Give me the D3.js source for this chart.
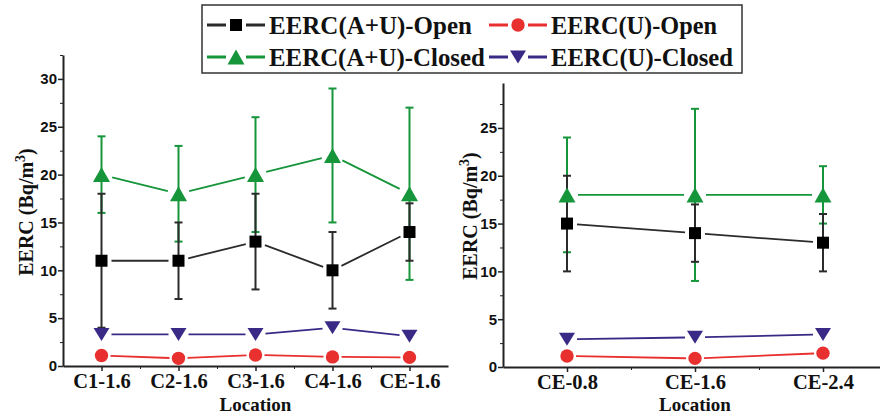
<!DOCTYPE html>
<html>
<head>
<meta charset="utf-8">
<script src="https://cdn.jsdelivr.net/npm/d3@7"></script>
<style>
body { margin: 0; background: #fff; }
svg { display: block; }
</style>
</head>
<body>
<svg id="chart" width="880" height="418"></svg>
<script>
// categories
var leftCats = ["C1-1.6", "C2-1.6", "C3-1.6", "C4-1.6", "CE-1.6"];
var rightCats = ["CE-0.8", "CE-1.6", "CE-2.4"];

// left panel series (Bq/m3)
var leftAUOpen = [11, 11, 13, 10, 14];
var leftAUOpenErr = [7, 4, 5, 4, 3];
var leftUOpen = [1.1, 0.8, 1.15, 0.95, 0.9];
var leftAUClosed = [20, 18, 20, 22, 18];
var leftAUClosedErr = [4, 5, 6, 7, 9];
var leftUClosed = [3.3, 3.3, 3.3, 4.0, 3.1];

// right panel series
var rightAUOpen = [15, 14, 13];
var rightAUOpenErr = [5, 3, 3];
var rightUOpen = [1.15, 0.9, 1.45];
var rightAUClosed = [18, 18, 18];
var rightAUClosedErr = [6, 9, 3];
var rightUClosed = [2.9, 3.1, 3.4];

// y ticks
var leftYTicks = [0, 5, 10, 15, 20, 25, 30];
var rightYTicks = [0, 5, 10, 15, 20, 25];

var seriesNames = ["EERC(A+U)-Open", "EERC(U)-Open", "EERC(A+U)-Closed", "EERC(U)-Closed"];

var black = "#000000", lineBlack = "#2b2b2b";
var red = "#e8302e";
var green = "#16953a";
var purple = "#3a2a86";

var serif = "'Liberation Serif','Times New Roman',serif";
var sans = "'Liberation Sans',Arial,sans-serif";

var svg = d3.select("#chart");

//Path for a triangle centred on its bounding box, up or down
function triPath(w, h, down){
    if (down) return "M" + (-w/2) + "," + (-h/2) + "L" + (w/2) + "," + (-h/2) + "L0," + (h/2) + "Z";
    return "M" + (-w/2) + "," + (h/2) + "L" + (w/2) + "," + (h/2) + "L0," + (-h/2) + "Z";
}

//Draw a marker of given kind at x,y
function drawMarker(g, kind, x, y){
    if (kind === "square") {
        g.append("path").attr("d", d3.symbol().type(d3.symbolSquare).size(144)()).attr("transform", "translate(" + x + "," + y + ")").attr("fill", black);
    } else if (kind === "circle") {
        g.append("path").attr("d", d3.symbol().type(d3.symbolCircle).size(140)()).attr("transform", "translate(" + x + "," + y + ")").attr("fill", red);
    } else if (kind === "up") {
        g.append("path").attr("d", triPath(17, 15, false)).attr("transform", "translate(" + x + "," + y + ")").attr("fill", green);
    } else {
        g.append("path").attr("d", triPath(16, 13, true)).attr("transform", "translate(" + x + "," + y + ")").attr("fill", purple);
    }
}

//Connect points with short gaps around the markers
function drawLine(g, pts, color, gap){
    for (var i = 0; i < pts.length - 1; i++) {
        var a = pts[i], b = pts[i+1];
        var dx = b[0] - a[0], dy = b[1] - a[1];
        var len = Math.sqrt(dx*dx + dy*dy);
        var ux = dx/len, uy = dy/len;
        g.append("line")
            .attr("x1", a[0] + ux*gap).attr("y1", a[1] + uy*gap)
            .attr("x2", b[0] - ux*gap).attr("y2", b[1] - uy*gap)
            .attr("stroke", color).attr("stroke-width", 1.8);
    }
}

//Vertical error bar with caps
function drawErr(g, x, yTop, yBot, color){
    g.append("line").attr("x1", x).attr("x2", x).attr("y1", yTop).attr("y2", yBot).attr("stroke", color).attr("stroke-width", 2);
    g.append("line").attr("x1", x-4).attr("x2", x+4).attr("y1", yTop).attr("y2", yTop).attr("stroke", color).attr("stroke-width", 2);
    g.append("line").attr("x1", x-4).attr("x2", x+4).attr("y1", yBot).attr("y2", yBot).attr("stroke", color).attr("stroke-width", 2);
}

//Draw one panel
function drawPanel(cfg){
    var g = svg.append("g");
    var n = cfg.cats.length;
    var x = d3.scaleLinear().domain([0.5, n + 0.5]).range([cfg.x0, cfg.x1]);
    var y = d3.scaleLinear().domain([0, cfg.yMax]).range([cfg.y0, cfg.yTop]);
    var idx = d3.range(1, n + 1);

    // y axis
    var yAxis = g.append("g").attr("transform", "translate(" + cfg.x0 + ",0)")
        .call(d3.axisLeft(y).tickValues(cfg.yTicks).tickSize(5).tickSizeOuter(0));
    var minors = d3.range(2.5, cfg.yMax + 0.01, 5);
    g.append("g").attr("transform", "translate(" + cfg.x0 + ",0)")
        .call(d3.axisLeft(y).tickValues(minors).tickSize(3).tickFormat("").tickSizeOuter(0))
        .select(".domain").remove();
    yAxis.select(".domain").attr("stroke", "#222").attr("stroke-width", 2);
    yAxis.selectAll(".tick line").attr("stroke", "#222").attr("stroke-width", 1.5);
    yAxis.selectAll(".tick text").attr("font-family", sans).attr("font-weight", "bold").attr("font-size", 15).attr("fill", "#111").attr("x", -6);

    // x axis
    var xAxis = g.append("g").attr("transform", "translate(0," + cfg.y0 + ")")
        .call(d3.axisBottom(x).tickValues(idx).tickSize(5).tickSizeOuter(0).tickFormat(function(d){return cfg.cats[d-1];}));
    g.append("g").attr("transform", "translate(0," + cfg.y0 + ")")
        .call(d3.axisBottom(x).tickValues(idx.slice(0, n-1).map(function(d){return d + 0.5;})).tickSize(3).tickFormat("").tickSizeOuter(0))
        .select(".domain").remove();
    xAxis.select(".domain").attr("stroke", "#222").attr("stroke-width", 2);
    xAxis.selectAll(".tick line").attr("stroke", "#222").attr("stroke-width", 1.5);
    xAxis.selectAll(".tick text").attr("font-family", serif).attr("font-weight", "bold").attr("font-size", 20.5).attr("fill", "#111").attr("y", 7);
    g.selectAll(".tick line").attr("stroke", "#222");

    // axis titles
    g.append("text").attr("x", (cfg.x0 + cfg.x1) / 2).attr("y", 411).attr("text-anchor", "middle")
        .attr("font-family", serif).attr("font-weight", "bold").attr("font-size", 19).attr("fill", "#111").text("Location");
    var yt = g.append("text").attr("transform", "translate(" + cfg.titleX + "," + cfg.titleY + ") rotate(-90)")
        .attr("text-anchor", "middle").attr("font-family", serif).attr("font-weight", "bold").attr("font-size", 20).attr("fill", "#111");
    yt.append("tspan").text("EERC (Bq/m");
    yt.append("tspan").attr("dy", -8).attr("font-size", 14).text("3");
    yt.append("tspan").attr("dy", 8).text(")");

    function pts(vals){ return vals.map(function(v, i){ return [x(i+1), y(v)]; }); }

    // error bars
    cfg.auClosed.forEach(function(v, i){ drawErr(g, x(i+1), y(v + cfg.auClosedErr[i]), y(v - cfg.auClosedErr[i]), green); });
    cfg.auOpen.forEach(function(v, i){ drawErr(g, x(i+1), y(v + cfg.auOpenErr[i]), y(v - cfg.auOpenErr[i]), lineBlack); });

    // lines
    drawLine(g, pts(cfg.auOpen), lineBlack, 10);
    drawLine(g, pts(cfg.uOpen), red, 9);
    drawLine(g, pts(cfg.auClosed), green, 11);
    drawLine(g, pts(cfg.uClosed), purple, 10);

    // markers
    pts(cfg.auClosed).forEach(function(p){ drawMarker(g, "up", p[0], p[1]); });
    pts(cfg.auOpen).forEach(function(p){ drawMarker(g, "square", p[0], p[1]); });
    pts(cfg.uClosed).forEach(function(p){ drawMarker(g, "down", p[0], p[1]); });
    pts(cfg.uOpen).forEach(function(p){ drawMarker(g, "circle", p[0], p[1]); });
}

drawPanel({
    cats: leftCats, x0: 63, x1: 448, y0: 366, yTop: 55, yMax: 32.5, yTicks: leftYTicks,
    titleX: 33, titleY: 212,
    auOpen: leftAUOpen, auOpenErr: leftAUOpenErr, uOpen: leftUOpen,
    auClosed: leftAUClosed, auClosedErr: leftAUClosedErr, uClosed: leftUClosed
});

drawPanel({
    cats: rightCats, x0: 503, x1: 887, y0: 367, yTop: 83, yMax: 29.7, yTicks: rightYTicks,
    titleX: 477, titleY: 216,
    auOpen: rightAUOpen, auOpenErr: rightAUOpenErr, uOpen: rightUOpen,
    auClosed: rightAUClosed, auClosedErr: rightAUClosedErr, uClosed: rightUClosed
});

// legend
var leg = svg.append("g");
leg.append("rect").attr("x", 202).attr("y", 5).attr("width", 540).attr("height", 68)
    .attr("fill", "#fff").attr("stroke", "#333").attr("stroke-width", 1.5);
var legItems = [
    {name: seriesNames[0], kind: "square", color: lineBlack, lx: 207, ty: 25, w: 203},
    {name: seriesNames[1], kind: "circle", color: red, lx: 489, ty: 25, w: 166},
    {name: seriesNames[2], kind: "up", color: green, lx: 207, ty: 57, w: 216},
    {name: seriesNames[3], kind: "down", color: purple, lx: 489, ty: 57, w: 182}
];
legItems.forEach(function(d){
    var cx = d.lx + 29;
    leg.append("line").attr("x1", d.lx).attr("x2", cx - 10).attr("y1", d.ty).attr("y2", d.ty).attr("stroke", d.color).attr("stroke-width", 3);
    leg.append("line").attr("x1", cx + 10).attr("x2", cx + 29).attr("y1", d.ty).attr("y2", d.ty).attr("stroke", d.color).attr("stroke-width", 3);
    drawMarker(leg, d.kind, cx, d.ty);
    var t = leg.append("text").attr("x", 0).attr("y", 0)
        .attr("font-family", serif).attr("font-weight", "bold").attr("font-size", 26).attr("fill", "#111").text(d.name);
    //stretch text to the width seen in the picture
    var len = t.node().getComputedTextLength();
    t.attr("transform", "translate(" + (d.lx + 62) + "," + (d.ty + 9) + ") scale(" + (d.w / len) + ",1)");
});
</script>
</body>
</html>
